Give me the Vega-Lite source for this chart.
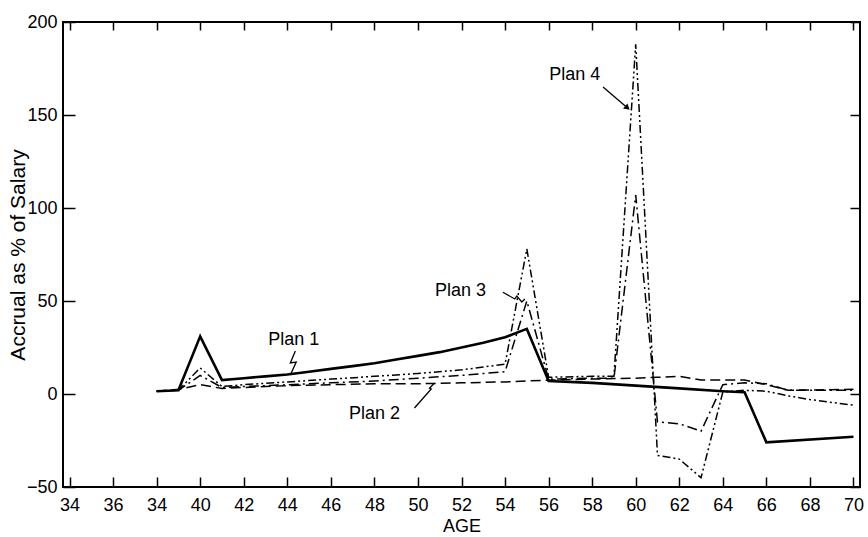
{
  "$schema": "https://vega.github.io/schema/vega-lite/v6.json",
  "width": 797,
  "height": 465,
  "autosize": "none",
  "padding": {"left": 63, "top": 22, "right": 8, "bottom": 50},
  "background": "white",
  "config": {
    "view": {"stroke": "black", "strokeWidth": 2},
    "axis": {"grid": false, "domain": false, "tickColor": "black", "tickWidth": 1.5, "labelColor": "black", "titleColor": "black", "labelFont": "Liberation Sans", "titleFont": "Liberation Sans", "labelFontSize": 18, "titleFontSize": 18, "titleFontWeight": "normal"}
  },
  "datasets": {
    "lines": [
      {"plan": "Plan 1", "age": 38, "val": 1.5}, {"plan": "Plan 1", "age": 39, "val": 2}, {"plan": "Plan 1", "age": 40, "val": 31},
      {"plan": "Plan 1", "age": 41, "val": 7.5}, {"plan": "Plan 1", "age": 42, "val": 8.5}, {"plan": "Plan 1", "age": 43, "val": 9.5},
      {"plan": "Plan 1", "age": 44, "val": 10.5}, {"plan": "Plan 1", "age": 45, "val": 12}, {"plan": "Plan 1", "age": 46, "val": 13.5},
      {"plan": "Plan 1", "age": 47, "val": 15}, {"plan": "Plan 1", "age": 48, "val": 16.5}, {"plan": "Plan 1", "age": 49, "val": 18.5},
      {"plan": "Plan 1", "age": 50, "val": 20.5}, {"plan": "Plan 1", "age": 51, "val": 22.5}, {"plan": "Plan 1", "age": 52, "val": 25},
      {"plan": "Plan 1", "age": 53, "val": 27.5}, {"plan": "Plan 1", "age": 54, "val": 30.5}, {"plan": "Plan 1", "age": 55, "val": 35},
      {"plan": "Plan 1", "age": 56, "val": 7}, {"plan": "Plan 1", "age": 58, "val": 6}, {"plan": "Plan 1", "age": 60, "val": 4.5},
      {"plan": "Plan 1", "age": 62, "val": 3}, {"plan": "Plan 1", "age": 64, "val": 1.5}, {"plan": "Plan 1", "age": 65, "val": 1},
      {"plan": "Plan 1", "age": 66, "val": -26}, {"plan": "Plan 1", "age": 70, "val": -23},

      {"plan": "Plan 2", "age": 38, "val": 1.5}, {"plan": "Plan 2", "age": 39, "val": 2.5}, {"plan": "Plan 2", "age": 40, "val": 5},
      {"plan": "Plan 2", "age": 41, "val": 3}, {"plan": "Plan 2", "age": 42, "val": 3.5}, {"plan": "Plan 2", "age": 44, "val": 4.5},
      {"plan": "Plan 2", "age": 46, "val": 5}, {"plan": "Plan 2", "age": 48, "val": 5.5}, {"plan": "Plan 2", "age": 50, "val": 5.5},
      {"plan": "Plan 2", "age": 52, "val": 6}, {"plan": "Plan 2", "age": 54, "val": 6.5}, {"plan": "Plan 2", "age": 56, "val": 7.5},
      {"plan": "Plan 2", "age": 58, "val": 8}, {"plan": "Plan 2", "age": 60, "val": 8.5}, {"plan": "Plan 2", "age": 61, "val": 9},
      {"plan": "Plan 2", "age": 62, "val": 9.5}, {"plan": "Plan 2", "age": 63, "val": 7.5}, {"plan": "Plan 2", "age": 65, "val": 7.5},
      {"plan": "Plan 2", "age": 66, "val": 5}, {"plan": "Plan 2", "age": 67, "val": 2}, {"plan": "Plan 2", "age": 70, "val": 2.5},

      {"plan": "Plan 3", "age": 38, "val": 1.5}, {"plan": "Plan 3", "age": 39, "val": 2}, {"plan": "Plan 3", "age": 40, "val": 10},
      {"plan": "Plan 3", "age": 41, "val": 3.5}, {"plan": "Plan 3", "age": 42, "val": 4}, {"plan": "Plan 3", "age": 44, "val": 5},
      {"plan": "Plan 3", "age": 46, "val": 6}, {"plan": "Plan 3", "age": 48, "val": 7}, {"plan": "Plan 3", "age": 50, "val": 8.5},
      {"plan": "Plan 3", "age": 52, "val": 10}, {"plan": "Plan 3", "age": 54, "val": 12}, {"plan": "Plan 3", "age": 55, "val": 50},
      {"plan": "Plan 3", "age": 56, "val": 8}, {"plan": "Plan 3", "age": 58, "val": 8.5}, {"plan": "Plan 3", "age": 59, "val": 8.5},
      {"plan": "Plan 3", "age": 60, "val": 107}, {"plan": "Plan 3", "age": 61, "val": -15}, {"plan": "Plan 3", "age": 62, "val": -16},
      {"plan": "Plan 3", "age": 63, "val": -20}, {"plan": "Plan 3", "age": 64, "val": 5}, {"plan": "Plan 3", "age": 65, "val": 6},
      {"plan": "Plan 3", "age": 66, "val": 5.5}, {"plan": "Plan 3", "age": 67, "val": 2}, {"plan": "Plan 3", "age": 70, "val": 2},

      {"plan": "Plan 4", "age": 38, "val": 1.5}, {"plan": "Plan 4", "age": 39, "val": 2}, {"plan": "Plan 4", "age": 40, "val": 14},
      {"plan": "Plan 4", "age": 41, "val": 4}, {"plan": "Plan 4", "age": 42, "val": 5}, {"plan": "Plan 4", "age": 44, "val": 6.5},
      {"plan": "Plan 4", "age": 46, "val": 8}, {"plan": "Plan 4", "age": 48, "val": 9.5}, {"plan": "Plan 4", "age": 50, "val": 11},
      {"plan": "Plan 4", "age": 52, "val": 13}, {"plan": "Plan 4", "age": 54, "val": 16}, {"plan": "Plan 4", "age": 55, "val": 78},
      {"plan": "Plan 4", "age": 56, "val": 9}, {"plan": "Plan 4", "age": 58, "val": 9.5}, {"plan": "Plan 4", "age": 59, "val": 9.5},
      {"plan": "Plan 4", "age": 60, "val": 188}, {"plan": "Plan 4", "age": 61, "val": -33}, {"plan": "Plan 4", "age": 62, "val": -35},
      {"plan": "Plan 4", "age": 63, "val": -45}, {"plan": "Plan 4", "age": 64, "val": 1}, {"plan": "Plan 4", "age": 65, "val": 2},
      {"plan": "Plan 4", "age": 66, "val": 1.5}, {"plan": "Plan 4", "age": 67, "val": -1}, {"plan": "Plan 4", "age": 68, "val": -3},
      {"plan": "Plan 4", "age": 70, "val": -6}
    ],
    "labels": [
      {"label": "Plan 1", "age": 44.3, "val": 29},
      {"label": "Plan 2", "age": 48.0, "val": -10.7},
      {"label": "Plan 3", "age": 51.95, "val": 55.4},
      {"label": "Plan 4", "age": 57.2, "val": 171.5}
    ],
    "pointers": [
      {"id": "p1", "ord": 1, "age": 44.37, "val": 23.1}, {"id": "p1", "ord": 2, "age": 44.14, "val": 16.7},
      {"id": "p1", "ord": 3, "age": 44.41, "val": 17.2}, {"id": "p1", "ord": 4, "age": 44.14, "val": 10.2},
      {"id": "p2", "ord": 1, "age": 49.84, "val": -7.5}, {"id": "p2", "ord": 2, "age": 50.61, "val": 2.7},
      {"id": "p2", "ord": 3, "age": 50.53, "val": 3.1}, {"id": "p2", "ord": 4, "age": 50.76, "val": 5.9},
      {"id": "p3", "ord": 1, "age": 53.9, "val": 54.7}, {"id": "p3", "ord": 2, "age": 54.45, "val": 51.1},
      {"id": "p3", "ord": 3, "age": 54.54, "val": 52.7}, {"id": "p3", "ord": 4, "age": 54.77, "val": 49.5},
      {"id": "p3", "ord": 5, "age": 54.91, "val": 51.1},
      {"id": "p4", "ord": 1, "age": 58.5, "val": 165}, {"id": "p4", "ord": 2, "age": 59.6, "val": 154}
    ],
    "heads": [
      {"age": 59.62, "val": 153.8}
    ]
  },
  "resolve": {"axis": {"x": "independent", "y": "independent"}},
  "layer": [
    {
      "data": {"name": "lines"},
      "transform": [{"filter": "datum.plan == 'Plan 1'"}],
      "mark": {"type": "line", "color": "black", "strokeWidth": 2.6, "strokeJoin": "miter"},
      "encoding": {
        "x": {"field": "age", "type": "quantitative", "scale": {"domain": [33.7, 70.3], "nice": false, "zero": false},
          "axis": {"orient": "bottom", "values": [34, 36, 38, 40, 42, 44, 46, 48, 50, 52, 54, 56, 58, 60, 62, 64, 66, 68, 70],
            "labelExpr": "datum.value == 38 ? '34' : datum.label", "tickSize": -10, "labelPadding": 19, "title": "AGE", "titleY": 30, "titleBaseline": "top"}},
        "y": {"field": "val", "type": "quantitative", "scale": {"domain": [-50, 200], "nice": false, "zero": false},
          "axis": {"orient": "left", "values": [-50, 0, 50, 100, 150, 200], "tickSize": -12, "labelPadding": 18,
            "title": "Accrual as % of Salary", "titleFontSize": 21, "titleX": -45, "titleBaseline": "middle", "titleAngle": -90}}
      }
    },
    {
      "data": {"name": "lines"},
      "transform": [{"filter": "datum.plan != 'Plan 1'"}],
      "mark": {"type": "line", "color": "black", "strokeWidth": 1.5},
      "encoding": {
        "x": {"field": "age", "type": "quantitative", "axis": null},
        "y": {"field": "val", "type": "quantitative", "axis": null},
        "detail": {"field": "plan", "type": "nominal"},
        "strokeDash": {"field": "plan", "type": "nominal", "legend": null,
          "scale": {"domain": ["Plan 2", "Plan 3", "Plan 4"], "range": [[10, 5], [10, 4, 2, 4], [8, 3, 2, 3, 2, 3]]}}
      }
    },
    {
      "data": {"name": "pointers"},
      "mark": {"type": "line", "color": "black", "strokeWidth": 1.3},
      "encoding": {
        "x": {"field": "age", "type": "quantitative", "axis": null},
        "y": {"field": "val", "type": "quantitative", "axis": null},
        "detail": {"field": "id", "type": "nominal"},
        "order": {"field": "ord", "type": "quantitative"}
      }
    },
    {
      "data": {"name": "heads"},
      "mark": {"type": "point", "shape": "triangle-right", "filled": true, "color": "black", "size": 45, "angle": 41, "opacity": 1},
      "encoding": {
        "x": {"field": "age", "type": "quantitative", "axis": null},
        "y": {"field": "val", "type": "quantitative", "axis": null}
      }
    },
    {
      "data": {"name": "labels"},
      "mark": {"type": "text", "font": "Liberation Sans", "fontSize": 18, "color": "black", "align": "center", "baseline": "middle"},
      "encoding": {
        "x": {"field": "age", "type": "quantitative",
          "axis": {"orient": "top", "values": [34, 36, 38, 40, 42, 44, 46, 48, 50, 52, 54, 56, 58, 60, 62, 64, 66, 68, 70], "labels": false, "tickSize": -8, "title": null}},
        "y": {"field": "val", "type": "quantitative",
          "axis": {"orient": "right", "values": [-50, 0, 50, 100, 150, 200], "labels": false, "tickSize": -10, "title": null}},
        "text": {"field": "label"}
      }
    }
  ]
}
